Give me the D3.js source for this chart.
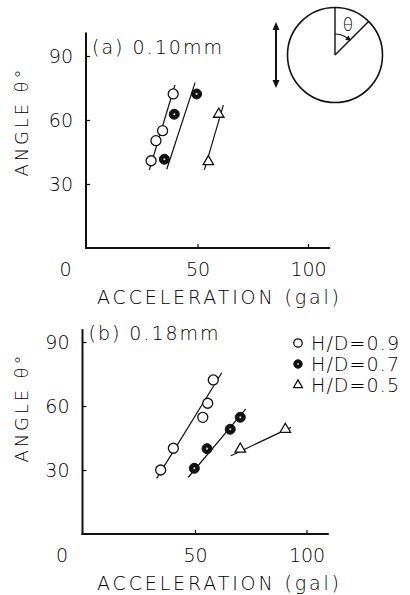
<!DOCTYPE html>
<html>
<head>
<meta charset="utf-8">
<script src="https://cdn.jsdelivr.net/npm/d3@7"></script>
<style>
    body { margin: 0; background: #fff; }
    text { font-family: "DejaVu Sans", sans-serif; font-weight: 200; fill: #000; }
</style>
</head>
<body>
<svg id="chart" width="410" height="595"></svg>
<script>
// values (acceleration in gal, angle in degrees)
const seriesNames = ["H/D=0.9", "H/D=0.7", "H/D=0.5"];
const markerTypes = ["open", "filled", "triangle"];

const openA = [[39.0, 72.2], [34.2, 55.0], [31.2, 50.3], [29.0, 40.9]];
const filledA = [[49.6, 72.2], [39.5, 62.7], [35.0, 41.6]];
const triA = [[59.6, 62.7], [54.9, 40.5]];
const fitOpenA = [[28.2, 36.6], [39.8, 76.4]];
const fitFilledA = [[36.1, 36.9], [48.9, 77.5]];
const fitTriA = [[53.1, 36.6], [61.7, 67.0]];

const openB = [[58.2, 72.2], [55.7, 61.3], [53.5, 54.7], [40.3, 40.2], [34.6, 30.0]];
const filledB = [[49.7, 30.8], [55.4, 40.0], [65.8, 49.1], [70.3, 54.7]];
const triB = [[70.3, 39.8], [90.5, 49.1]];
const fitOpenB = [[32.8, 26.1], [62.0, 75.6]];
const fitFilledB = [[47.0, 26.6], [72.7, 58.5]];
const fitTriB = [[66.1, 36.7], [93.0, 50.0]];

const xTicks = [0, 50, 100];
const yTicks = [30, 60, 90];

const panels = [
    {
        title: "(a) 0.10mm",
        points: [openA, filledA, triA],
        fits: [fitOpenA, fitFilledA, fitTriA],
        x0: 87, x100: 308, xEnd: 110,
        y0: 248, y90: 56, yTop: 101,
        legend: false
    },
    {
        title: "(b) 0.18mm",
        points: [openB, filledB, triB],
        fits: [fitOpenB, fitFilledB, fitTriB],
        x0: 83.5, x100: 306.5, xEnd: 110,
        y0: 534, y90: 342, yTop: 96,
        legend: true
    }
];

const svg = d3.select("#chart");

function drawMarker(g, type, x, y, r) {
    if (type === "open") {
        g.append("circle").attr("cx", x).attr("cy", y).attr("r", r)
            .attr("fill", "#fff").attr("stroke", "#111").attr("stroke-width", 1.3);
    } else if (type === "filled") {
        g.append("circle").attr("cx", x).attr("cy", y).attr("r", r)
            .attr("fill", "#111").attr("stroke", "#111").attr("stroke-width", 1);
        g.append("circle").attr("cx", x).attr("cy", y).attr("r", r * 0.22)
            .attr("fill", "#ccc");
    } else {
        g.append("path")
            .attr("d", d3.symbol(d3.symbolTriangle, r * r * 1.9)())
            .attr("transform", `translate(${x},${y})`)
            .attr("fill", "#fff").attr("stroke", "#111").attr("stroke-width", 1.3);
    }
}

panels.forEach(p => {
    const x = d3.scaleLinear().domain([0, 100]).range([p.x0, p.x100]);
    const y = d3.scaleLinear().domain([0, 90]).range([p.y0, p.y90]);
    const g = svg.append("g");

    // axis lines
    g.append("line")
        .attr("x1", x(0) - 1).attr("x2", x(0) - 1)
        .attr("y1", y(0) + 1).attr("y2", y(p.yTop))
        .attr("stroke", "#111").attr("stroke-width", 2);
    g.append("line")
        .attr("x1", x(0) - 2).attr("x2", x(p.xEnd))
        .attr("y1", y(0)).attr("y2", y(0))
        .attr("stroke", "#111").attr("stroke-width", 2);

    const yAxis = g.append("g")
        .attr("transform", `translate(${x(0) - 1},0)`)
        .call(d3.axisLeft(y).tickValues(yTicks).tickSize(-4).tickPadding(13));
    const xAxis = g.append("g")
        .attr("transform", `translate(0,${y(0)})`)
        .call(d3.axisBottom(x).tickValues(xTicks).tickSize(-4).tickPadding(15));

    [yAxis, xAxis].forEach(a => {
        a.select(".domain").remove();
        a.selectAll(".tick line").attr("stroke", "#111").attr("stroke-width", 1.2);
        a.selectAll(".tick text")
            .style("font-family", "DejaVu Sans, sans-serif")
            .style("font-weight", 200)
            .style("font-size", "19px")
            .attr("fill", "#000");
    });
    xAxis.selectAll(".tick")
        .filter(d => d === 0)
        .select("text")
        .attr("dx", -22);
    xAxis.selectAll(".tick").filter(d => d === 0).select("line").remove();

    // fitted lines
    p.fits.forEach(f => {
        g.append("path")
            .attr("d", d3.line().x(d => x(d[0])).y(d => y(d[1]))(f))
            .attr("fill", "none").attr("stroke", "#111").attr("stroke-width", 1.2);
    });

    // data points
    p.points.forEach((pts, i) => {
        pts.forEach(d => drawMarker(g, markerTypes[i], x(d[0]), y(d[1]), 5));
    });

    // panel title
    g.append("text")
        .attr("x", x(0) + 5).attr("y", y(90) - 2)
        .attr("textLength", 130).attr("lengthAdjust", "spacing")
        .style("font-size", "19px")
        .text(p.title);

    // axis titles
    g.append("text")
        .attr("x", 218).attr("y", y(0) + 56)
        .attr("text-anchor", "middle")
        .attr("textLength", 242).attr("lengthAdjust", "spacing")
        .style("font-size", "19px")
        .text("ACCELERATION  (gal)");
    g.append("text")
        .attr("transform", `translate(28,${(y(30) + y(90)) / 2 + 3}) rotate(-90)`)
        .attr("text-anchor", "middle")
        .attr("textLength", 107).attr("lengthAdjust", "spacing")
        .style("font-size", "18px")
        .text("ANGLE θ°");

    if (p.legend) {
        const lg = g.append("g");
        seriesNames.forEach((name, i) => {
            const ly = 343 + i * 21;
            drawMarker(lg, markerTypes[i], 298, ly, 4.2);
            lg.append("text")
                .attr("x", 311).attr("y", ly + 7)
                .attr("textLength", 88).attr("lengthAdjust", "spacing")
                .style("font-size", "19px")
                .text(name);
        });
    }
});

// inset sketch: vibration direction and the angle theta
const inset = svg.append("g");
const cx = 335, cy = 55, rad = 47.5;
inset.append("circle").attr("cx", cx).attr("cy", cy).attr("r", rad)
    .attr("fill", "none").attr("stroke", "#111").attr("stroke-width", 1.6);
inset.append("line").attr("x1", cx).attr("y1", cy).attr("x2", cx).attr("y2", cy - rad)
    .attr("stroke", "#111").attr("stroke-width", 1.4);
inset.append("line").attr("x1", cx).attr("y1", cy)
    .attr("x2", cx + rad * Math.SQRT1_2).attr("y2", cy - rad * Math.SQRT1_2)
    .attr("stroke", "#111").attr("stroke-width", 1.4);
const arc = d3.path();
arc.arc(cx, cy, 21, -Math.PI / 2, -Math.PI / 2 + 0.62);
inset.append("path").attr("d", arc.toString())
    .attr("fill", "none").attr("stroke", "#111").attr("stroke-width", 1.2);
inset.append("path")
    .attr("d", d3.symbol(d3.symbolTriangle, 14)())
    .attr("transform", `translate(${cx + 21 * Math.sin(0.68)},${cy - 21 * Math.cos(0.68)}) rotate(125)`)
    .attr("fill", "#111");
inset.append("text").attr("x", 348).attr("y", 31)
    .attr("text-anchor", "middle").style("font-size", "17px").text("θ");

// double arrow for shaking direction
inset.append("line").attr("x1", 276).attr("x2", 276).attr("y1", 26).attr("y2", 84)
    .attr("stroke", "#111").attr("stroke-width", 2);
[[22, 0], [88, 180]].forEach(([ay, rot]) => {
    inset.append("path")
        .attr("d", "M0,0 L-3.5,8 L3.5,8 Z")
        .attr("transform", `translate(276,${ay}) rotate(${rot})`)
        .attr("fill", "#111");
});
</script>
</body>
</html>
